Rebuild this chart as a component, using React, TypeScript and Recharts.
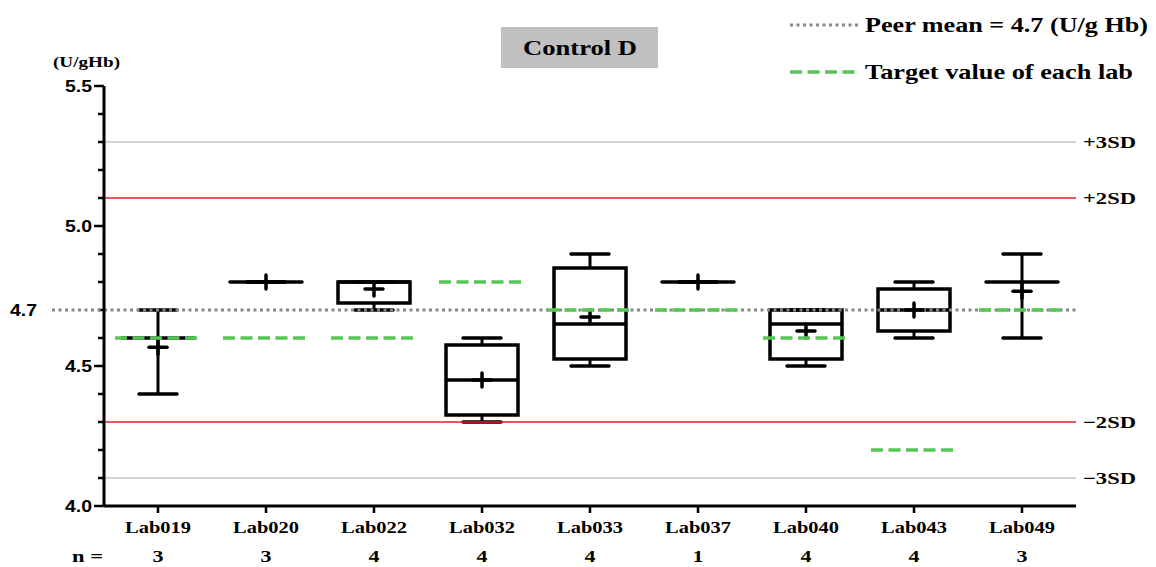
import React from 'react';
import { ComposedChart, Bar, Scatter, XAxis, YAxis, ReferenceLine, Customized } from 'recharts';

// Control D, values per lab (U/g Hb)
const labs = ['Lab019', 'Lab020', 'Lab022', 'Lab032', 'Lab033', 'Lab037', 'Lab040', 'Lab043', 'Lab049'];
const nCounts = [3, 3, 4, 4, 4, 1, 4, 4, 3];
const mins = [4.4, 4.8, 4.7, 4.3, 4.5, 4.8, 4.5, 4.6, 4.6];
const q1s = [null, null, 4.725, 4.325, 4.525, null, 4.525, 4.625, null];
const medians = [4.6, 4.8, 4.8, 4.45, 4.65, 4.8, 4.65, 4.7, 4.8];
const q3s = [null, null, 4.8, 4.575, 4.85, null, 4.7, 4.775, null];
const maxs = [4.7, 4.8, 4.8, 4.6, 4.9, 4.8, 4.7, 4.8, 4.9];
const means = [4.567, 4.8, 4.775, 4.45, 4.675, 4.8, 4.625, 4.7, 4.767];
const targets = [4.6, 4.6, 4.6, 4.8, 4.7, 4.7, 4.6, 4.2, 4.7];

const yTicks = [4.0, 4.1, 4.2, 4.3, 4.4, 4.5, 4.6, 4.7, 4.8, 4.9, 5.0, 5.1, 5.2, 5.3, 5.4, 5.5];
const yLabelled = [4.0, 4.5, 5.0, 5.5];
const peerMean = 4.7;
const sdValues = [5.3, 5.1, 4.3, 4.1];
const sdLabels = ['+3SD', '+2SD', '\u22122SD', '\u22123SD'];

const data = labs.map((lab, i) => ({
  lab,
  n: nCounts[i],
  min: mins[i],
  q1: q1s[i],
  median: medians[i],
  q3: q3s[i],
  max: maxs[i],
  mean: means[i],
  target: targets[i],
  range: [mins[i], maxs[i]],
}));

const SERIF = '"Liberation Serif", Tinos, "Times New Roman", "DejaVu Serif", serif';
const SANS = '"Liberation Sans", Arimo, Arial, sans-serif';
const GREEN = '#55c655';

const serifBold = { fontFamily: SERIF, fontWeight: 700 } as React.CSSProperties;
const sansBold = { fontFamily: SANS, fontWeight: 700 } as React.CSSProperties;

const BoxShape = (props: any) => {
  const { x, y, width, height, payload } = props;
  const d = payload;
  const top = Math.min(y, y + height);
  const h = Math.abs(height);
  const py = (v: number) => (d.max === d.min ? top : top + (h * (d.max - v)) / (d.max - d.min));
  const cx = x + width / 2;
  const capHalf = 19;
  const hasBox = d.q1 != null && d.q3 != null;
  return (
    <g stroke="#000" fill="none">
      {hasBox ? (
        <>
          <line x1={cx} x2={cx} y1={py(d.max)} y2={py(d.q3)} strokeWidth={3} />
          <line x1={cx} x2={cx} y1={py(d.q1)} y2={py(d.min)} strokeWidth={3} />
          <rect x={x} y={py(d.q3)} width={width} height={py(d.q1) - py(d.q3)} strokeWidth={3.5} />
        </>
      ) : (
        <line x1={cx} x2={cx} y1={py(d.max)} y2={py(d.min)} strokeWidth={3} />
      )}
      <line x1={cx - capHalf} x2={cx + capHalf} y1={py(d.max)} y2={py(d.max)} strokeWidth={3.5} strokeLinecap="round" />
      <line x1={cx - capHalf} x2={cx + capHalf} y1={py(d.min)} y2={py(d.min)} strokeWidth={3.5} strokeLinecap="round" />
      <line x1={x} x2={x + width} y1={py(d.median)} y2={py(d.median)} strokeWidth={3.5} strokeLinecap={hasBox ? 'butt' : 'round'} />
    </g>
  );
};

const MeanShape = (props: any) => {
  const { cx, cy } = props;
  return (
    <g stroke="#000" strokeWidth={3.5} strokeLinecap="round">
      <line x1={cx - 9} x2={cx + 9} y1={cy} y2={cy} />
      <line x1={cx} x2={cx} y1={cy - 7} y2={cy + 7} />
    </g>
  );
};

const TargetShape = (props: any) => {
  const { cx, cy } = props;
  return <line x1={cx - 43} x2={cx + 43} y1={cy} y2={cy} stroke={GREEN} strokeWidth={3.5} strokeDasharray="12 5.5" />;
};

const YTick = (props: any) => {
  const { x, y, payload } = props;
  const v = Math.round(payload.value * 10) / 10;
  const major = yLabelled.includes(v);
  return (
    <g>
      <line x1={x - (major ? 10 : 6)} x2={x} y1={y} y2={y} stroke="#000" strokeWidth={2.5} />
      {major && (
        <text x={x - 12} y={y} dy="0.36em" textAnchor="end" style={sansBold} fontSize={16}
          textLength={27} lengthAdjust="spacingAndGlyphs" fill="#000">
          {v.toFixed(1)}
        </text>
      )}
      {v === peerMean && (
        <>
          <line x1={x - 52} x2={x} y1={y} y2={y} stroke="#888" strokeWidth={3} strokeDasharray="3 3.5" />
          <text x={x - 94} y={y} dy="0.36em" style={sansBold} fontSize={16}
            textLength={27} lengthAdjust="spacingAndGlyphs" fill="#000">
            {v.toFixed(1)}
          </text>
        </>
      )}
    </g>
  );
};

const XTick = (props: any) => {
  const { x, y, payload } = props;
  const i = labs.indexOf(payload.value);
  return (
    <g>
      <line x1={x} x2={x} y1={y} y2={y + 7} stroke="#000" strokeWidth={2.5} />
      <text x={x} y={y + 27} textAnchor="middle" style={serifBold} fontSize={16}
        textLength={66} lengthAdjust="spacingAndGlyphs" fill="#000">
        {payload.value}
      </text>
      <text x={x} y={y + 56} textAnchor="middle" style={serifBold} fontSize={17}
        textLength={11} lengthAdjust="spacingAndGlyphs" fill="#000">
        {nCounts[i]}
      </text>
    </g>
  );
};

const SdLabel = (props: any) => {
  const { viewBox, text } = props;
  return (
    <text x={viewBox.x + viewBox.width + 7} y={viewBox.y + 6} style={serifBold} fontSize={17}
      textLength={53} lengthAdjust="spacingAndGlyphs" fill="#000">
      {text}
    </text>
  );
};

const Overlay = () => (
  <g>
    <rect x={501} y={27} width={157} height={41} fill="#c0c0c0" />
    <text x={580} y={55} textAnchor="middle" style={serifBold} fontSize={20}
      textLength={114} lengthAdjust="spacingAndGlyphs" fill="#000">
      Control D
    </text>
    <line x1={790} x2={858} y1={25} y2={25} stroke="#888" strokeWidth={3} strokeDasharray="3 3.5" />
    <text x={865} y={32} style={serifBold} fontSize={22}
      textLength={283} lengthAdjust="spacingAndGlyphs" fill="#000">
      Peer mean = 4.7 (U/g Hb)
    </text>
    <line x1={790} x2={858} y1={72} y2={72} stroke={GREEN} strokeWidth={3.5} strokeDasharray="12 5.5" />
    <text x={865} y={79} style={serifBold} fontSize={22}
      textLength={268} lengthAdjust="spacingAndGlyphs" fill="#000">
      Target value of each lab
    </text>
    <text x={53} y={67} style={serifBold} fontSize={14}
      textLength={67} lengthAdjust="spacingAndGlyphs" fill="#000">
      (U/gHb)
    </text>
    <text x={72} y={562} style={serifBold} fontSize={17}
      textLength={31} lengthAdjust="spacingAndGlyphs" fill="#000">
      n =
    </text>
  </g>
);

export default function App() {
  return (
    <div style={{ position: 'absolute', left: 0, top: 0, background: '#fff' }}>
      <ComposedChart width={1156} height={567} data={data} margin={{ top: 86, right: 80, bottom: 31, left: 44 }}>
        <XAxis dataKey="lab" type="category" height={30} tickSize={0} tickMargin={0} tick={<XTick />}
          axisLine={{ stroke: '#000', strokeWidth: 3 }} interval={0} />
        <YAxis type="number" domain={[4.0, 5.5]} ticks={yTicks} width={60} tickSize={0} tickMargin={0}
          tick={<YTick />} axisLine={{ stroke: '#000', strokeWidth: 3 }} interval={0} allowDecimals />
        {sdValues.map((v, i) => (
          <ReferenceLine key={v} y={v} stroke={Math.abs(v - peerMean) > 0.5 ? '#c4c4c4' : '#e31e1e'}
            strokeWidth={1.3} label={<SdLabel text={sdLabels[i]} />} />
        ))}
        <Bar dataKey="range" barSize={72} shape={<BoxShape />} isAnimationActive={false} />
        <Scatter dataKey="mean" shape={<MeanShape />} isAnimationActive={false} />
        <ReferenceLine y={peerMean} stroke="#888" strokeWidth={3} strokeDasharray="3 3.5" />
        <Scatter dataKey="target" shape={<TargetShape />} isAnimationActive={false} />
        <Customized component={Overlay} />
      </ComposedChart>
    </div>
  );
}
